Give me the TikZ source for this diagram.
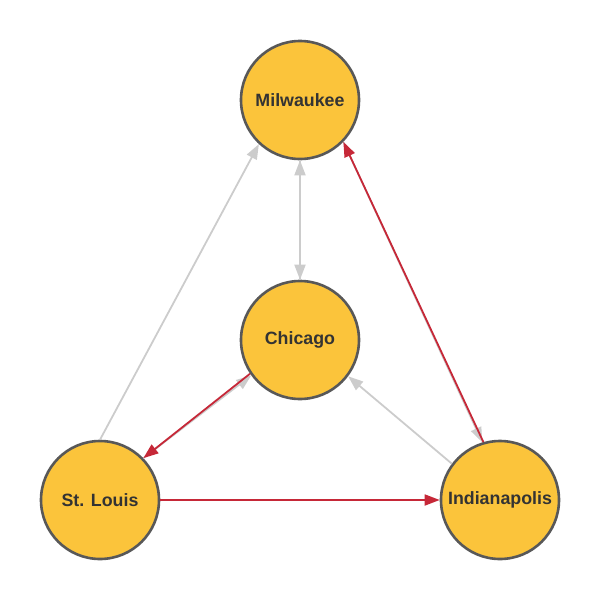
\documentclass[tikz,border=0pt]{standalone}
\usepackage{fontspec}
\setmainfont{Liberation Sans}
\usepackage{tikz}
\usetikzlibrary{arrows.meta, positioning}
\usepackage{xcolor}
\definecolor{cityfill}{RGB}{251,196,59}
\definecolor{cityedge}{RGB}{88,88,88}
\definecolor{route}{RGB}{198,40,56}
\definecolor{faint}{RGB}{204,204,204}

\tikzset{
  city/.style={circle, draw=cityedge, line width=2.6pt, fill=cityfill,
    minimum size=118pt, inner sep=0pt, font=\fontsize{17.8}{20}\selectfont\bfseries,
    text=black!80},
  greyarc/.style={faint, line width=1.8pt, -{Triangle[length=15pt, width=11pt]}},
  redarc/.style={route, line width=1.8pt, -{Triangle[length=15pt, width=11pt]}}
}

\begin{document}
\begin{tikzpicture}[x=1pt, y=-1pt]
  \useasboundingbox (0,0) rectangle (600,600);
  % cities
  \node[city] (mil) at (300,100) {Milwaukee};
  \node[city] (chi) at (300,340) {Chicago};
  \node[city] (stl) at (100,500) {St. Louis};
  \node[city] (ind) at (500,500) {Indianapolis};
  % grey links
  \draw[greyarc] (stl.north) -- (mil.227);
  \draw[greyarc] (mil) -- (chi);
  \draw[greyarc] (chi) -- (mil);
  \draw[greyarc] (ind.143) -- (chi.-37);
  \draw[greyarc] (stl.44) -- (chi.216);
  \draw[greyarc] (mil.-44) -- (ind.107);
  % red route
  \draw[redarc] (chi.214) -- (stl.44);
  \draw[redarc] (stl) -- (ind);
  \draw[redarc] (ind.106) -- (mil.-44);
\end{tikzpicture}
\end{document}
